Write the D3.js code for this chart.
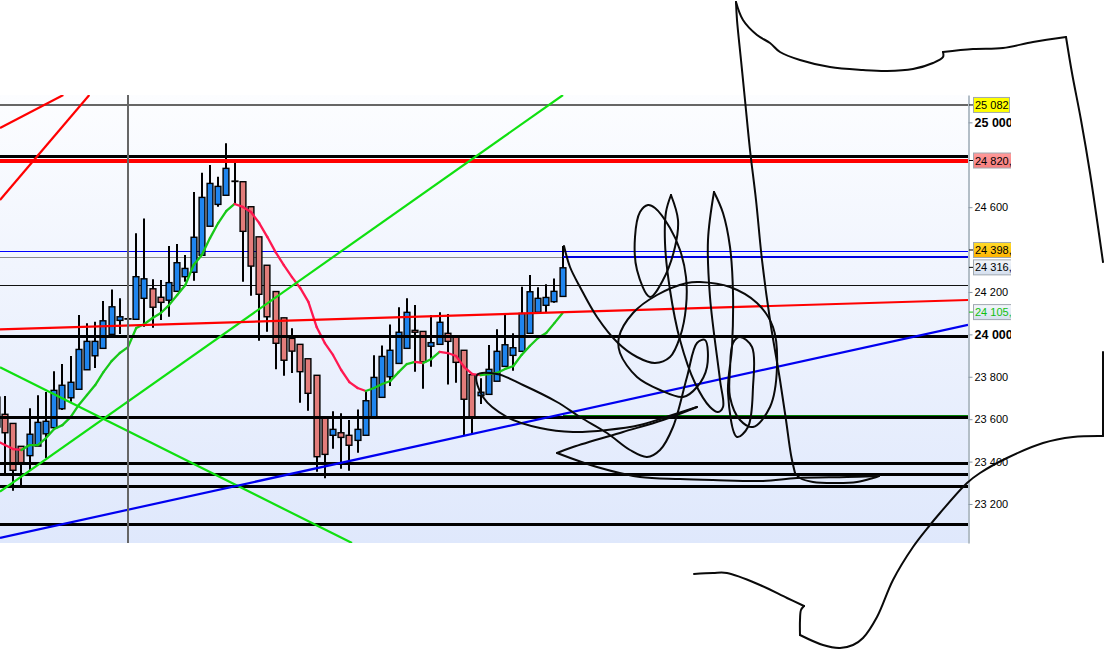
<!DOCTYPE html>
<html><head><meta charset="utf-8">
<style>html,body{margin:0;padding:0;background:#fff;overflow:hidden}svg{display:block}text{font-family:"Liberation Sans",Arial,sans-serif}</style>
<script src="https://cdn.jsdelivr.net/npm/d3@7/dist/d3.min.js"></script>
</head><body><svg id="c" width="1104" height="649"></svg>
<script>
// ---- price data, one entry per bar ----
const opens  = [23704,23623,23580,23472,23428,23473,23531,23560,23649,23701,23741,23833,23899,23934,24000,24066,24074,24071,24170,24215,24175,24161,24203,24272,24293,24373,24510,24613,24656,24723,24720,24602,24460,24326,24202,24078,23981,23953,23885,23807,23605,23524,23536,23524,23500,23524,23605,23703,23800,23863,23934,24019,24014,23944,23953,24005,23989,23925,23810,23711,23717,23779,23849,23901,23920,24005,24104,24137,24154,24179];
const highs  = [23704,23709,23580,23472,23651,23713,23728,23826,23860,23898,24091,24052,24060,24157,24212,24170,24138,24477,24547,24260,24256,24417,24426,24374,24671,24762,24799,24743,24901,24808,24720,24602,24460,24326,24202,24078,24029,23953,23885,23807,23605,23637,23628,23596,23646,23733,23901,23948,24047,24128,24170,24138,24014,24091,24104,24096,23989,23925,23810,23793,23950,24024,24091,24005,24225,24280,24222,24236,24264,24417];
const lows   = [23563,23346,23263,23290,23360,23473,23417,23550,23643,23682,23741,23833,23841,23934,24000,24002,23997,24071,24036,24031,24068,24083,24203,24248,24253,24373,24510,24602,24656,24615,24248,24182,23970,24012,23835,23805,23818,23678,23640,23352,23321,23461,23366,23357,23442,23524,23605,23703,23756,23863,23934,23824,23744,23847,23953,23763,23772,23524,23530,23672,23717,23779,23849,23829,23920,24005,24101,24103,24149,24179];
const closes = [23563,23536,23359,23395,23529,23585,23590,23736,23760,23774,23929,23967,23967,24064,24130,24083,24074,24272,24262,24128,24151,24244,24338,24311,24458,24646,24712,24698,24783,24723,24486,24322,24189,24083,23958,23878,23921,23824,23722,23423,23434,23552,23514,23477,23552,23687,23797,23896,23925,24010,24104,24010,23871,23961,24057,23967,23868,23694,23610,23727,23835,23920,23951,23937,24099,24201,24170,24174,24203,24314];
const movingAverage = [23497,23478,23459,23455,23478,23478,23511,23554,23572,23610,23667,23714,23761,23822,23874,23912,23940,24030,24049,24077,24101,24138,24186,24233,24327,24374,24454,24525,24582,24615,24601,24577,24525,24459,24388,24327,24270,24219,24153,24035,23959,23903,23832,23775,23747,23733,23747,23766,23780,23822,23860,23870,23865,23884,23917,23912,23898,23846,23813,23808,23813,23818,23837,23851,23903,23945,23983,24006,24053,24101];

// horizontal levels
const thickLevels = [24839,23992,23606,23392,23340,23284,23104];
const redLevels   = [24820];
const topLevel    = 25082;
const thinBlueLevel = 24393;
const thinGrayLevel = 24363;
const thinBlackLevel = 24231;
const greenLevel = 23615;
const cursorBar = 16;
const lastBarEdge = 69.05;
const farBar = 118.44;
const startBar = 0.39;

// trend lines: [bar, price, bar, price]
const redTrends   = [[startBar,24973,8.11,25129],[startBar,24634,11.28,25129],[startBar,24024,farBar,24162]];
const greenTrends = [[startBar,23258,69.05,25129],[startBar,23845,43.32,23016]];
const blueTrends  = [[startBar,23040,farBar,24045]];

// axis
const axisTicks = [25000,24600,24200,24000,23800,23600,23400,23200];
const boldTicks = [25000,24000];
const priceTags = [
  {v:25082,label:"25 082",kind:"top"},
  {v:24820,label:"24 820,50",kind:"red"},
  {v:24398,label:"24 398,00",kind:"gold"},
  {v:24316,label:"24 316,00",kind:"plain"},
  {v:24105,label:"24 105,00",kind:"green"}
];

// freehand ink, screen space
const inkStrokes = [
 [[564,246],[570,267],[580,287],[597,317],[618,343],[637,357],[655,363],[670,357],[680,337],[686,307],[686,277],[680,250],[670,228],[655,208],[648,205],[640,212],[635,237],[637,270],[650,297],[663,280],[675,247],[678,220],[671,195]],
 [[671,195],[666,212],[665,243],[670,290],[680,340],[695,383],[710,407],[718,412],[723,407],[720,380],[710,297],[708,240],[714,192]],
 [[714,192],[723,213],[730,247],[733,293],[732,347],[728,393],[737,437],[748,427],[753,387],[752,347],[740,337],[733,343],[730,370],[730,397],[740,420],[753,427],[770,407],[777,367],[773,327],[757,303],[730,287],[700,282],[687,283],[657,295],[633,313],[619,337],[620,353],[637,377],[660,390],[683,397],[697,387],[707,367],[705,340],[697,343],[687,377],[673,427],[660,450],[647,457],[630,450],[607,433],[580,417],[557,402],[523,385],[497,374],[477,375],[483,397],[507,417],[540,428],[573,432],[607,430],[640,425],[663,418],[697,407]],
 [[697,407],[663,420],[623,432],[573,447],[557,453]],
 [[557,453],[597,467],[640,477],[680,479],[713,480],[763,481],[797,478],[847,477],[879,476]],
 [[879,476],[873,478],[857,482],[837,483],[813,482],[800,478],[795,473]],
 [[795,473],[791,455],[786,420],[780,380],[770,320],[762,260],[756,200],[750,150],[745,100],[741,60],[737,20],[736,2]],
 [[736,2],[743,20],[757,35],[770,43],[780,52],[800,60],[830,67],[863,70],[887,71],[913,69],[933,63],[943,57],[943,52]],
 [[943,52],[973,49],[1003,48],[1033,42],[1066,37]],
 [[1066,37],[1072,73],[1081,120],[1090,173],[1103,262]],
 [[1103,352],[1103,436]],
 [[1103,436],[1073,437],[1043,443],[1007,458],[980,473],[967,483],[940,513],[930,525],[913,547],[893,580],[877,617],[863,638],[853,645],[840,648],[823,645],[800,635]],
 [[800,635],[800,620],[801,610],[804,606]],
 [[804,606],[787,598],[760,585],[727,573],[713,573],[694,574]]
];

// ---- scales ----
const W=1104,H=649;
const plot={l:0,t:95,r:968,b:543};
const x=d3.scaleLinear().domain([0,69]).range([-3.2,562.6]);
const y=d3.scaleLinear().domain([23016,25129]).range([plot.b,plot.t]);
const bars=opens.map((o,i)=>({i,o,h:highs[i],l:lows[i],c:closes[i]}));

const svg=d3.select("#c");
const defs=svg.append("defs");
function grad(id,stops){const g=defs.append("linearGradient").attr("id",id).attr("x1",0).attr("x2",0).attr("y1",0).attr("y2",1);
  stops.forEach((c,i)=>g.append("stop").attr("offset",i/(stops.length-1)).attr("stop-color",c));}
grad("bg",["#fcfdff","#dfe8fc"]);
grad("tagRed",["#ff9a9a","#f77f7f"]);
grad("tagGold",["#ffdc2a","#ffb400"]);
grad("tagPlain",["#f4f7fb","#d4dfee"]);
defs.append("clipPath").attr("id","pc").append("rect").attr("x",plot.l).attr("y",plot.t).attr("width",plot.r-plot.l).attr("height",plot.b-plot.t);
defs.append("clipPath").attr("id","ac").append("rect").attr("x",960).attr("y",0).attr("width",51).attr("height",H);

svg.append("rect").attr("x",plot.l).attr("y",plot.t).attr("width",plot.r-plot.l).attr("height",plot.b-plot.t).attr("fill","url(#bg)");
const g=svg.append("g").attr("clip-path","url(#pc)");

function hline(v,from,to,color,w){g.append("line").attr("x1",from).attr("x2",to).attr("y1",y(v)).attr("y2",y(v)).attr("stroke",color).attr("stroke-width",w).attr("shape-rendering","crispEdges");}
hline(thinBlueLevel,plot.l,plot.r,"#0000ff",1);
hline(thinGrayLevel,plot.l,x(lastBarEdge),"#8a8a8a",1);
hline(thinBlackLevel,plot.l,plot.r,"#111",1);

// bars
const cg=g.append("g");
cg.selectAll("line").data(bars).join("line")
  .attr("x1",d=>Math.round(x(d.i))).attr("x2",d=>Math.round(x(d.i))).attr("y1",d=>y(d.h)).attr("y2",d=>y(d.l))
  .attr("stroke","#000").attr("stroke-width",2);
cg.selectAll("rect").data(bars).join("rect")
  .attr("x",d=>Math.round(x(d.i))-2.9).attr("width",5.8)
  .attr("y",d=>y(Math.max(d.o,d.c))).attr("height",d=>Math.max(0.4,Math.abs(y(d.o)-y(d.c))))
  .attr("fill",d=>d.c>=d.o?"#1f85ee":"#e27c7a").attr("stroke","#000").attr("stroke-width",1.4);

// moving average, coloured by slope
for(let i=1;i<movingAverage.length;i++){
  const up=movingAverage[i]>=movingAverage[i-1];
  g.append("line").attr("x1",x(i-1)).attr("y1",y(movingAverage[i-1])).attr("x2",x(i)).attr("y2",y(movingAverage[i]))
    .attr("stroke",up?"#18c818":"#ff1850").attr("stroke-width",2.3).attr("stroke-linecap","round");
}

// thick levels
hline(greenLevel,x(lastBarEdge),plot.r,"#008000",1);
thickLevels.forEach(v=>hline(v,plot.l,plot.r,"#000",3));
redLevels.forEach(v=>hline(v,plot.l,plot.r,"#ff0000",4));
hline(thinGrayLevel,x(lastBarEdge),plot.r,"#0000e0",2);
hline(topLevel,plot.l,plot.r,"#666",2);

// trend lines
function trend(t,color,w){g.append("line").attr("x1",x(t[0])).attr("y1",y(t[1])).attr("x2",x(t[2])).attr("y2",y(t[3])).attr("stroke",color).attr("stroke-width",w);}
greenTrends.forEach(t=>trend(t,"#10e010",2.2));
blueTrends.forEach(t=>trend(t,"#0000f0",2.2));
redTrends.forEach(t=>trend(t,"#ff0000",2.2));

// cursor
g.append("line").attr("x1",x(cursorBar)).attr("x2",x(cursorBar)).attr("y1",plot.t).attr("y2",plot.b).attr("stroke","#666").attr("stroke-width",2);

// axis
const ax=d3.axisRight(y).tickValues(axisTicks).tickFormat(d=>d3.format(",")(d).replace(",", " ")).tickSize(4).tickSizeOuter(0).tickPadding(2);
const ag=svg.append("g").attr("clip-path","url(#ac)").append("g").attr("transform",`translate(${plot.r+0.5},0)`).call(ax);
ag.select(".domain").attr("stroke","#9aa8b5").attr("stroke-width",1.5);
ag.selectAll(".tick line").attr("stroke","#8a98a5");
ag.selectAll(".tick text").attr("fill","#000")
  .attr("font-size",d=>boldTicks.includes(d)?12.5:11)
  .attr("font-weight",d=>boldTicks.includes(d)?"bold":"normal");

// price tags
const tg=svg.append("g").attr("clip-path","url(#ac)");
const tagFill={top:"#ffff00",red:"url(#tagRed)",gold:"url(#tagGold)",plain:"url(#tagPlain)",green:"url(#tagPlain)"};
priceTags.forEach(t=>{
  const yy=y(t.v);
  tg.append("line").attr("x1",969).attr("x2",973).attr("y1",yy).attr("y2",yy).attr("stroke",t.kind==="green"?"#10c010":"#000");
  tg.append("rect").attr("x",973.5).attr("y",yy-7.5).attr("width",t.kind==="top"?36:50).attr("height",15)
    .attr("fill",tagFill[t.kind]).attr("stroke","#a0a8b0").attr("stroke-width",1);
  tg.append("text").attr("x",975).attr("y",yy+4).attr("font-size",11)
    .attr("fill",t.kind==="green"?"#10c010":"#000").text(t.label);
});

// ink
const ink=d3.line().x(d=>d[0]).y(d=>d[1]).curve(d3.curveCatmullRom.alpha(0.5));
svg.append("g").selectAll("path").data(inkStrokes).join("path").attr("d",ink)
  .attr("fill","none").attr("stroke","#0a0a0a").attr("stroke-width",2).attr("stroke-linecap","round").attr("stroke-linejoin","round");
</script></body></html>
